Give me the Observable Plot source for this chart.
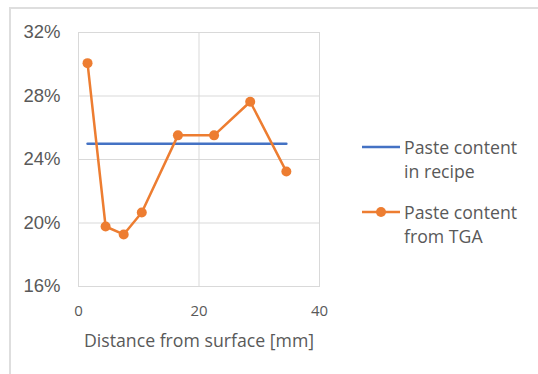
<!DOCTYPE html>
<html>
<head>
<meta charset="utf-8">
<script src="https://cdn.jsdelivr.net/npm/d3@7"></script>
<script src="https://cdn.jsdelivr.net/npm/@observablehq/plot@0.6"></script>
<style>
  html, body { margin: 0; padding: 0; background: #fff; }
  #wrap { position: relative; width: 538px; height: 374px; overflow: hidden; }
  #frame { position: absolute; left: 9px; top: 7px; right: 0; bottom: 0;
           border-top: 2px solid #dedede; border-left: 2px solid #dedede; pointer-events: none; }
  #legend { position: absolute; left: 362px; top: 135px; font-family: "Open Sans", sans-serif;
            font-size: 17.7px; color: #595959; line-height: 24px; }
  .row { display: flex; align-items: flex-start; margin-bottom: 17px; }
  .row svg { flex: none; margin-right: 4px; margin-top: 1px; }
</style>
</head>
<body>
<div id="wrap">
  <div id="chart"></div>
  <div id="frame"></div>
  <div id="legend"></div>
</div>
<script>
// Data
const distance = [1.5, 4.5, 7.5, 10.5, 16.5, 22.5, 28.5, 34.5];           // mm
const pasteTGA = [30.07, 19.78, 19.28, 20.66, 25.52, 25.52, 27.64, 23.24]; // %
const pasteRecipe = [25, 25, 25, 25, 25, 25, 25, 25];                     // %
const seriesNames = ["Paste content in recipe", "Paste content from TGA"];
const seriesColors = ["#4472C4", "#ED7D31"];
const xTicks = [0, 20, 40];
const yTicks = [16, 20, 24, 28, 32];
const xTitle = "Distance from surface [mm]";

const recipeData = distance.map((d, i) => ({x: d, y: pasteRecipe[i]}));
const tgaData = distance.map((d, i) => ({x: d, y: pasteTGA[i]}));

const chart = Plot.plot({
  width: 538,
  height: 374,
  marginLeft: 78,
  marginRight: 219,
  marginTop: 32,
  marginBottom: 88,
  style: {fontFamily: "'Open Sans', sans-serif", color: "#595959", background: "transparent"},
  x: {domain: [0, 40], ticks: xTicks, label: null},
  y: {domain: [16, 32], ticks: yTicks, label: null},
  marks: [
    Plot.gridX(xTicks, {stroke: "#d9d9d9", strokeOpacity: 1, strokeWidth: 1}),
    Plot.gridY(yTicks, {stroke: "#d9d9d9", strokeOpacity: 1, strokeWidth: 1}),
    Plot.frame({stroke: "#d9d9d9", strokeWidth: 1}),
    Plot.axisY(yTicks, {tickSize: 0, tickPadding: 18, tickFormat: d => d + "%",
      fontSize: 18.5, fontFamily: "'Liberation Sans', Arial, sans-serif", fill: "#595959", label: null}),
    Plot.axisX(xTicks, {tickSize: 0, tickPadding: 19, fontSize: 15, fill: "#595959", label: null}),
    Plot.axisX({ticks: [], tickSize: 0, label: xTitle, labelAnchor: "center", labelArrow: "none",
      labelOffset: 60, fontSize: 17.7, fill: "#595959"}),
    Plot.line(recipeData, {x: "x", y: "y", stroke: seriesColors[0], strokeWidth: 2.5}),
    Plot.line(tgaData, {x: "x", y: "y", stroke: seriesColors[1], strokeWidth: 2.5}),
    Plot.dot(tgaData, {x: "x", y: "y", r: 5, fill: seriesColors[1], stroke: "none"})
  ]
});
document.getElementById("chart").appendChild(chart);

// Legend
const legend = document.getElementById("legend");
const splitNames = [["Paste content", "in recipe"], ["Paste content", "from TGA"]];
seriesNames.forEach((name, i) => {
  const row = document.createElement("div");
  row.className = "row";
  const sw = `<svg width="38" height="22"><line x1="0" x2="38" y1="11" y2="11" stroke="${seriesColors[i]}" stroke-width="2.5"/>` +
    (i === 1 ? `<circle cx="19" cy="11" r="5" fill="${seriesColors[i]}"/>` : "") + `</svg>`;
  row.innerHTML = sw + `<div>${splitNames[i][0]}<br>${splitNames[i][1]}</div>`;
  legend.appendChild(row);
});
</script>
</body>
</html>
